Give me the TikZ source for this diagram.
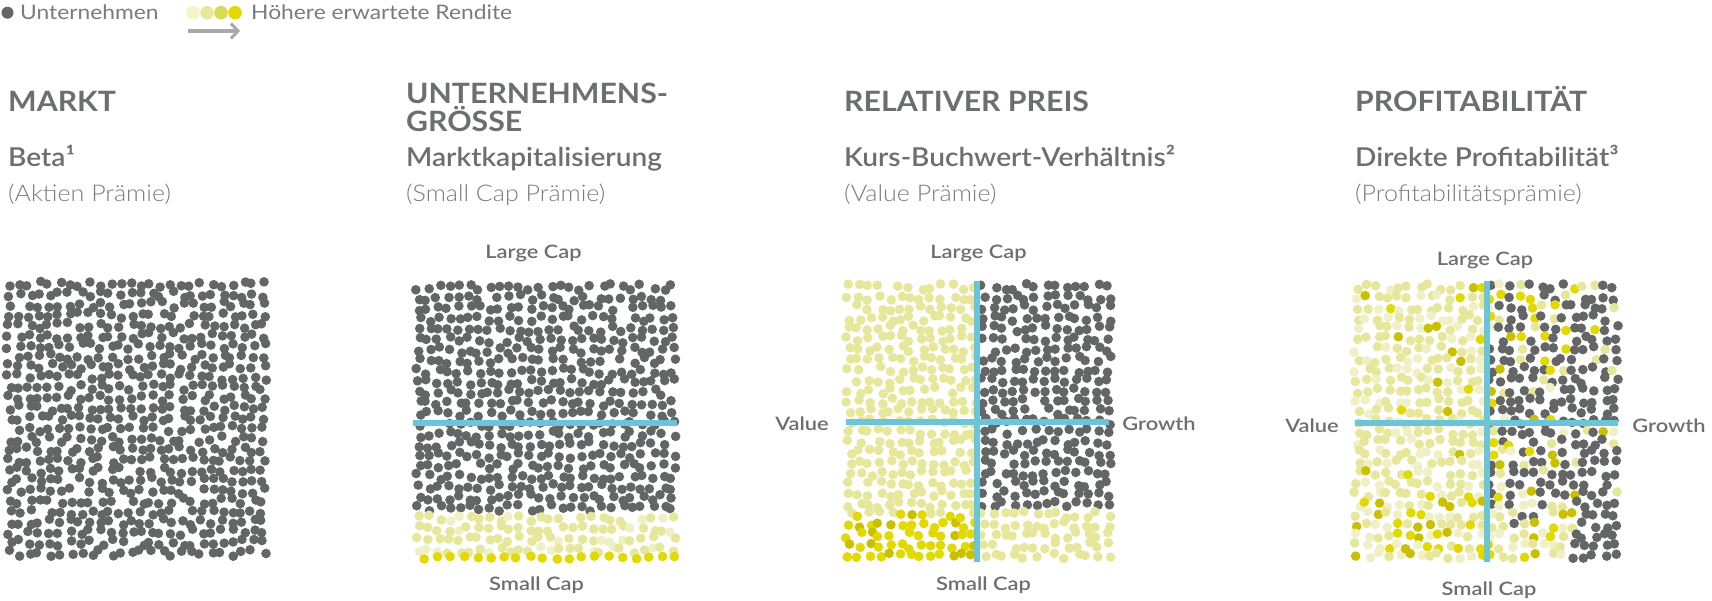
\documentclass[tikz,border=0pt]{standalone}
\usepackage{fontspec}
\setmainfont{Lato}
\newfontfamily\headf{Lato}[FakeStretch=1.08]
\newfontfamily\legf{Lato}[FakeStretch=1.14]
\IfFontExistsTF{Lato Light}{\newfontfamily\lightf{Lato Light}[FakeStretch=1.09]}{\newfontfamily\lightf{Lato}[FakeStretch=1.09]}
\IfFontExistsTF{Lato Semibold}{%
  \newfontfamily\semif{Lato Semibold}[FakeStretch=1.08]%
  \newfontfamily\labf{Lato Semibold}[FakeStretch=1.18]}{%
  \newfontfamily\semif{Lato}[FakeStretch=1.08, UprightFont={* Bold}]%
  \newfontfamily\labf{Lato}[FakeStretch=1.18, UprightFont={* Bold}]}
\usetikzlibrary{arrows.meta}
\definecolor{dgray}{HTML}{646567}
\definecolor{ylight}{HTML}{E7E79B}
\definecolor{ypale}{HTML}{F0F0C6}
\definecolor{ybright}{HTML}{E2D900}
\definecolor{ydark}{HTML}{CBC000}
\definecolor{blueline}{HTML}{6CC4D9}
\definecolor{headgray}{HTML}{6D6E71}
\definecolor{partext}{HTML}{7A7B7E}
\definecolor{arrowgray}{HTML}{A7A9AC}
\definecolor{leg1}{HTML}{F5F5CC}
\definecolor{leg2}{HTML}{E8E89C}
\definecolor{leg3}{HTML}{DADB55}
\definecolor{leg4}{HTML}{E2D900}
\tikzset{
  head/.style={anchor=base west, inner sep=0pt, font=\headf\bfseries\fontsize{28}{30}\selectfont, text=headgray},
  subhead/.style={anchor=base west, inner sep=0pt, font=\semif\fontsize{26}{28}\selectfont, text=headgray},
  paren/.style={anchor=base west, inner sep=0pt, font=\lightf\fontsize{23}{26}\selectfont, text=partext},
  axlabel/.style={anchor=base, inner sep=0pt, font=\labf\fontsize{18.5}{20}\selectfont, text=headgray},
  legtext/.style={anchor=base west, inner sep=0pt, font=\legf\fontsize{20}{22}\selectfont, text=partext},
  divider/.style={line width=6pt, draw=blueline},
}
\newcommand\drawfield[6]{%
  \pgfmathsetmacro\dxs{(#2-#1)/(#5-1)}%
  \pgfmathsetmacro\dys{(#4-#3)/(#6-1)}%
  \pgfmathtruncatemacro\nc{#5-1}%
  \pgfmathtruncatemacro\nr{#6-1}%
  \foreach \i in {0,...,\nc}{%
    \foreach \j in {0,...,\nr}{%
      \pgfmathsetmacro\px{#1+\i*\dxs+3.3*rand}%
      \pgfmathsetmacro\py{#3+\j*\dys+3.3*rand}%
      \pgfmathsetmacro\ra{rnd}%
      \pgfmathsetmacro\rb{rnd}%
      \pgfmathsetmacro\rs{rnd}%
      \panelrule
      \ifdim\rs pt>0.03pt
        \ifcase\dcode \def\col{dgray}\or\def\col{ylight}\or\def\col{ypale}\or\def\col{ybright}\or\def\col{ydark}\fi
        \fill[\col] (\px,\py) circle[radius=4.8pt];
      \fi
    }%
  }%
}
\begin{document}
\begin{tikzpicture}[x=1pt,y=-1pt]
\useasboundingbox (0,0) rectangle (1712,600);
\fill[white] (0,0) rectangle (1712,600);
\pgfmathsetseed{4242}

% ---------- legend ----------
\fill[dgray] (7.5,12.7) circle[radius=6pt];
\node[legtext] (leg-unt) at (20,19) {Unternehmen};
\fill[leg1] (193,12.7) circle[radius=6.8pt];
\fill[leg2] (207,12.7) circle[radius=6.8pt];
\fill[leg3] (221,12.7) circle[radius=6.8pt];
\fill[leg4] (235,12.7) circle[radius=6.8pt];
\node[legtext] (leg-ret) at (251,19) {Höhere erwartete Rendite};
\coordinate (arr-s) at (188,31);
\coordinate (arr-e) at (240,31);
\draw[arrowgray, line width=3.5pt, -{Straight Barb[length=7pt,width=15pt,line width=3pt]}] (arr-s) -- (arr-e);

% ---------- headings ----------
\node[head] (h1) at (8,111) {MARKT};
\node[subhead] (s1) at (8,166.5) {Beta¹};
\node[paren] (p1) at (8,201.5) {(Aktien Prämie)};

\node[head] (h2a) at (406,103) {UNTERNEHMENS-};
\node[head] (h2b) at (406,131) {GRÖSSE};
\node[subhead] (s2) at (406,166.5) {Marktkapitalisierung};
\node[paren] (p2) at (406,201.5) {(Small Cap Prämie)};

\node[head] (h3) at (844,111) {RELATIVER PREIS};
\node[subhead] (s3) at (844,166.5) {Kurs-Buchwert-Verhältnis²};
\node[paren] (p3) at (844,201.5) {(Value Prämie)};

\node[head] (h4) at (1355,111) {PROFITABILITÄT};
\node[subhead] (s4) at (1355,166.5) {Direkte Profitabilität³};
\node[paren] (p4) at (1355,201.5) {(Profitabilitätsprämie)};

% ---------- panel 1 ----------
\def\panelrule{\def\dcode{0}}
\drawfield{9}{263}{284}{553}{26}{27}

% ---------- panel 2 ----------
\def\panelrule{\pgfmathtruncatemacro\dcode{ifthenelse(\py>513, ifthenelse(\rb<0.2,2,1), 0)}}
\drawfield{418}{673}{287}{550}{26}{26}
\foreach \k in {0,...,19}{
  \pgfmathsetmacro\qx{424+\k*13.2+2*rand}
  \pgfmathsetmacro\qy{557.5+1.5*rand}
  \fill[ybright] (\qx,\qy) circle[radius=4.8pt];
}
\draw[divider] (413,423) -- (677,423);
\node[axlabel] (p2-large) at (533.5,258) {Large Cap};
\node[axlabel] (p2-small) at (536.5,590) {Small Cap};

% ---------- panel 3 ----------
\def\panelrule{\pgfmathtruncatemacro\dcode{ifthenelse(\px<977, ifthenelse(\py>514, ifthenelse(\rb<0.7,3,4), 1), ifthenelse(\py>511,1,0))}}
\drawfield{849}{1108}{287}{556}{26}{27}
\draw[divider] (977,281) -- (977,562);
\draw[divider] (846,422) -- (1109,422);
\node[axlabel] (p3-large) at (978.5,258) {Large Cap};
\node[axlabel] (p3-small) at (983.5,590) {Small Cap};
\node[axlabel] (p3-value) at (802,430.5) {Value};
\node[axlabel] (p3-growth) at (1159,430.5) {Growth};

% ---------- panel 4 ----------
\def\panelrule{%
  \pgfmathsetmacro\pyel{ifthenelse(\px<1487, 1, ifthenelse(\py>505, ifthenelse(\px<1573,0.9,0.08), 0.42-0.32*(\px-1487)/128))}%
  \pgfmathsetmacro\pbr{ifthenelse(\px<1487, ifthenelse(\py>500,0.45,0.09), ifthenelse(\py>505,0.25,0.35))}%
  \pgfmathtruncatemacro\dcode{ifthenelse(\ra<\pyel, ifthenelse(\rb<\pbr, ifthenelse(\rb<\pbr*0.55,3,4), ifthenelse(\rb>0.75,2,1)), 0)}%
}
\drawfield{1357}{1615}{287}{556}{26}{27}
\draw[divider] (1487,281) -- (1487,562);
\draw[divider] (1355,423) -- (1618,423);
\node[axlabel] (p4-large) at (1485,265) {Large Cap};
\node[axlabel] (p4-small) at (1489,595) {Small Cap};
\node[axlabel] (p4-value) at (1312,432) {Value};
\node[axlabel] (p4-growth) at (1669,432) {Growth};
\end{tikzpicture}
\end{document}
